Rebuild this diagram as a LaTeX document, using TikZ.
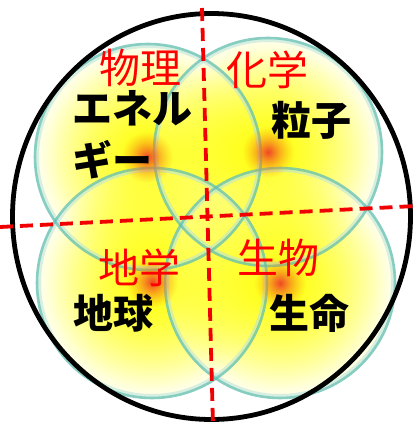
\documentclass[tikz,border=0pt]{standalone}
\usepackage{fontspec}
\newfontfamily\cjk{Noto Sans CJK JP}
\usetikzlibrary{fadings,shapes.geometric}
\definecolor{rimc}{RGB}{95,190,180}
\definecolor{spotc}{RGB}{240,70,40}
\definecolor{spot2}{RGB}{252,160,20}
\definecolor{ylw}{RGB}{255,255,0}
\definecolor{dred}{RGB}{240,0,0}
\tikzfading[name=spotfade, inner color=transparent!0, outer color=transparent!100]
\tikzset{
  spherebase/.style={inner color=ylw, outer color=ylw!10!white, fill opacity=0.72},
  yboost/.style={inner color=ylw, outer color=ylw, path fading=spotfade, fill opacity=0.85},
  rimout/.style={draw=rimc, line width=2.6pt, draw opacity=0.75},
  rimin/.style={draw=rimc!45!white, line width=3pt, draw opacity=0.55},
  spot/.style={inner color=spotc, outer color=spot2, path fading=spotfade},
  sep/.style={draw=dred, line width=3.8pt, dash pattern=on 13pt off 7pt},
  field/.style={text=red, font=\cjk\fontsize{41}{41}\selectfont, inner sep=0pt},
  topic/.style={text=black, font=\cjk\bfseries\fontsize{40}{40}\selectfont, inner sep=0pt}
}
\begin{document}
\begin{tikzpicture}[x=1pt,y=-1pt]
\useasboundingbox (0,0) rectangle (416,425);
\fill[white] (0,0) rectangle (416,425);
% four overlapping spheres
\shade[spherebase] (148,157) circle[radius=114];
\shade[spherebase] (268,152) circle[radius=115];
\shade[spherebase] (152,283) circle[radius=116];
\shade[spherebase] (280,283) circle[radius=116];
\shade[yboost] (148,157) circle[radius=104];
\shade[yboost] (268,152) circle[radius=105];
\shade[yboost] (152,283) circle[radius=106];
\shade[yboost] (280,283) circle[radius=106];
\draw[rimin] (148,157) circle[radius=110.5];
\draw[rimin] (268,152) circle[radius=111.5];
\draw[rimin] (152,283) circle[radius=112.5];
\draw[rimin] (280,283) circle[radius=112.5];
\draw[rimout] (148,157) circle[radius=113];
\draw[rimout] (268,152) circle[radius=114];
\draw[rimout] (152,283) circle[radius=115];
\draw[rimout] (280,283) circle[radius=115];
% hot spots
\shade[spot] (147,157) circle[radius=26];
\shade[spot] (268,152) circle[radius=26];
\shade[spot] (152,282) circle[radius=26];
\shade[spot] (280,283) circle[radius=26];
% outer circle
\node[draw=black, line width=4.8pt, ellipse, minimum width=398pt, minimum height=406pt, inner sep=0pt] (outer) at (211.5,216.5) {};
% dividing lines
\coordinate (vt) at (202,8);
\coordinate (vb) at (213,425);
\coordinate (hl) at (0,227);
\coordinate (hr) at (416,206);
\draw[sep] (vt) -- (vb);
\draw[sep] (hl) -- (hr);
% labels
\node[field] (phy) at (140,68) {物理};
\node[field] (chem) at (267,70) {化学};
\node[field] (geo) at (139,268) {地学};
\node[field] (bio) at (278,258) {生物};
\node[topic, anchor=west] (ene1) at (72,108) {エネル};
\node[topic, anchor=west] (ene2) at (72,160) {ギー};
\node[topic] (part) at (311,120) {粒子};
\node[topic] (earth) at (113,313) {地球};
\node[topic] (life) at (309,313) {生命};
\end{tikzpicture}
\end{document}
